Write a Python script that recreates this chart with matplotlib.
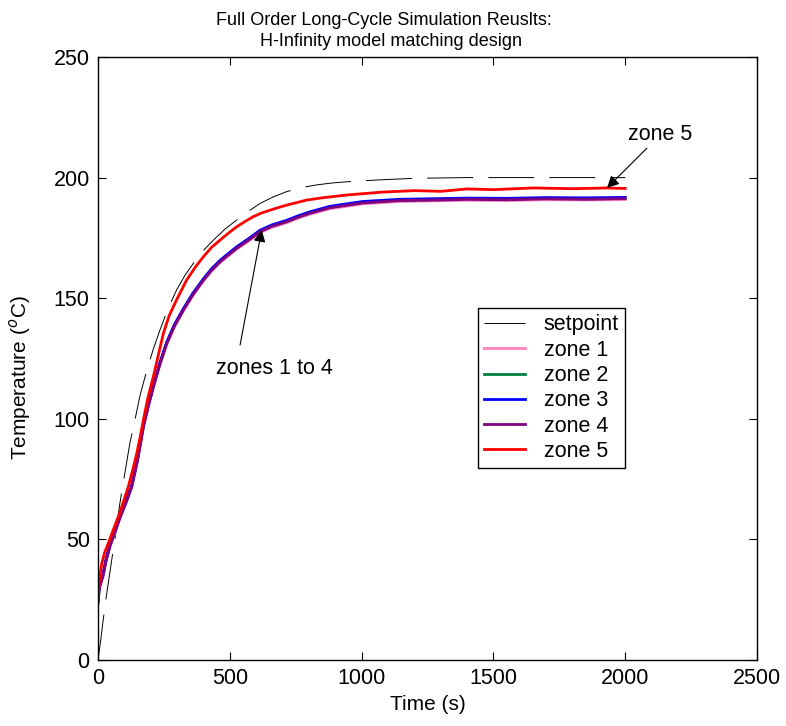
import matplotlib
matplotlib.use("Agg")
import matplotlib.pyplot as plt

plt.rcParams['font.family'] = ['Liberation Sans', 'DejaVu Sans']
plt.rcParams['lines.scale_dashes'] = False

# setpoint
t_set = [0, 10, 27, 52, 64, 83, 95, 121, 140, 160, 185, 210, 235, 265, 298, 330, 362,
         400, 438, 480, 526, 570, 615, 665, 716, 780, 831, 891, 960, 1058, 1200, 1400, 2000]
y_set = [0, 8, 23, 41.5, 50, 65, 73, 90, 99.5, 110, 120, 129, 136.8, 145.5, 153.4, 159.5,
         164.5, 169.8, 174.1, 178.5, 182.4, 186, 189.3, 192, 194.2, 196, 197, 197.8, 198.4,
         199, 199.7, 200, 200]

# zones 1 to 4 (nearly on top of each other)
t_z = [0, 5, 19, 30, 45, 64, 83, 105, 128, 150, 172, 190, 210, 235, 261, 290, 324, 360,
       400, 430, 463, 495, 526, 570, 615, 660, 716, 760, 804, 880, 1005, 1146, 1300, 1400,
       1550, 1700, 1850, 2000]
y_z1 = [23.7, 29.6, 34.6, 40.6, 46.8, 52.6, 58.6, 64.6, 71.5, 82.6, 96.3, 104.6, 112.9,
        122.4, 130.9, 138.1, 144.7, 151.1, 157.1, 161.1, 164.7, 167.6, 170.3, 173.6, 177.2,
        179.4, 181.3, 183.2, 184.8, 187.1, 189.1, 190.1, 190.4, 190.6, 190.5, 190.8, 190.7,
        190.9]
y_z2 = [24.1, 30.2, 35.2, 41.2, 47.4, 53.2, 59.2, 65.2, 72.1, 83.2, 96.9, 105.2, 113.5,
        123.0, 131.5, 138.7, 145.3, 151.7, 157.7, 161.7, 165.3, 168.2, 170.9, 174.2, 177.8,
        180.0, 181.9, 183.8, 185.4, 187.7, 189.7, 190.7, 190.9, 191.3, 191.0, 191.5, 191.2,
        191.5]
y_z3 = [24.4, 30.5, 35.6, 41.6, 47.8, 53.6, 59.6, 65.6, 72.5, 83.6, 97.3, 105.6, 113.9,
        123.4, 131.9, 139.1, 145.7, 152.1, 158.1, 162.1, 165.7, 168.6, 171.3, 174.6, 178.2,
        180.4, 182.3, 184.2, 185.8, 188.1, 190.1, 191.0, 191.3, 191.5, 191.4, 191.7, 191.6,
        191.8]
y_z4 = [24, 30, 35, 41, 47.2, 53, 59, 65, 71.9, 83, 96.7, 105, 113.3, 122.8, 131.3, 138.5,
        145.1, 151.5, 157.5, 161.5, 165.1, 168, 170.7, 174, 177.6, 179.8, 181.7, 183.6,
        185.2, 187.5, 189.5, 190.5, 190.7, 191.0, 190.8, 191.2, 191.0, 191.3]

# zone 5
t_z5 = [0, 5, 14, 25, 39, 58, 77, 96, 115, 131, 147, 160, 172, 190, 210, 230, 248, 270,
        298, 336, 370, 400, 430, 463, 495, 526, 558, 589, 620, 653, 685, 716, 760, 792,
        850, 945, 1081, 1200, 1300, 1400, 1500, 1650, 1800, 1930, 2000]
y_z5 = [24.9, 33, 40, 44.5, 48.4, 54, 59.4, 65.5, 71.9, 78.5, 85.7, 92.5, 99.5, 109, 117.5,
        127, 135.4, 142.8, 149.3, 157.5, 163, 167.2, 171, 174.1, 177, 179.6, 181.8, 183.8,
        185.3, 186.5, 187.6, 188.6, 189.8, 190.7, 191.6, 192.8, 194, 194.6, 194.3, 195.3,
        195.0, 195.7, 195.4, 195.7, 195.5]

fig = plt.figure(figsize=(7.86, 7.26), dpi=100)
ax = fig.add_axes([0.1247, 0.0909, 0.8384, 0.8306])

ax.plot(t_set, y_set, color='k', lw=0.7, dashes=(33, 11), label='setpoint')
ax.plot(t_z, y_z1, color='#ff80c0', lw=2, label='zone 1')
ax.plot(t_z, y_z2, color='#008040', lw=2, label='zone 2')
ax.plot(t_z, y_z3, color='#0000ff', lw=2, label='zone 3')
ax.plot(t_z, y_z4, color='#800080', lw=2, label='zone 4')
ax.plot(t_z5, y_z5, color='#ff0000', lw=2, label='zone 5')

ax.set_xlim(0, 2500)
ax.set_ylim(0, 250)
ax.set_xticks([0, 500, 1000, 1500, 2000, 2500])
ax.set_yticks([0, 50, 100, 150, 200, 250])
ax.tick_params(direction='in', length=6, width=0.8, labelsize=15.5,
               top=True, right=True, pad=6)
for s in ax.spines.values():
    s.set_linewidth(1.0)

ax.set_xlabel('Time (s)', fontsize=15)
fig.text(0.026, 0.48, 'Temperature ($^o$C)', rotation=90, fontsize=15,
         ha='center', va='center')

fig.text(0.489, 0.9656, 'Full Order Long-Cycle Simulation Reuslts:', fontsize=13,
         ha='center', va='baseline')
fig.text(0.497, 0.9366, 'H-Infinity model matching design', fontsize=13,
         ha='center', va='baseline')

leg = ax.legend(loc='upper left', bbox_to_anchor=(0.5766, 0.5837), fontsize=15.5,
                fancybox=False, edgecolor='k', framealpha=1, labelspacing=0.2,
                handlelength=1.9, handletextpad=0.85, borderpad=0.3,
                borderaxespad=0)
leg.get_frame().set_linewidth(1.0)

arrow = dict(arrowstyle='-|>', color='k', lw=0.8, mutation_scale=18, shrinkA=0, shrinkB=0)
ax.annotate('zone 5', xy=(1931, 195.7), xytext=(2011, 217.7), fontsize=15.5,
            ha='left', va='center', arrowprops=arrow)
ax.annotate('', xy=(621, 178.3), xytext=(539, 130.6), arrowprops=arrow)
ax.text(449, 121, 'zones 1 to 4', fontsize=15.5, ha='left', va='center')

fig.savefig('out.png', dpi=100)
